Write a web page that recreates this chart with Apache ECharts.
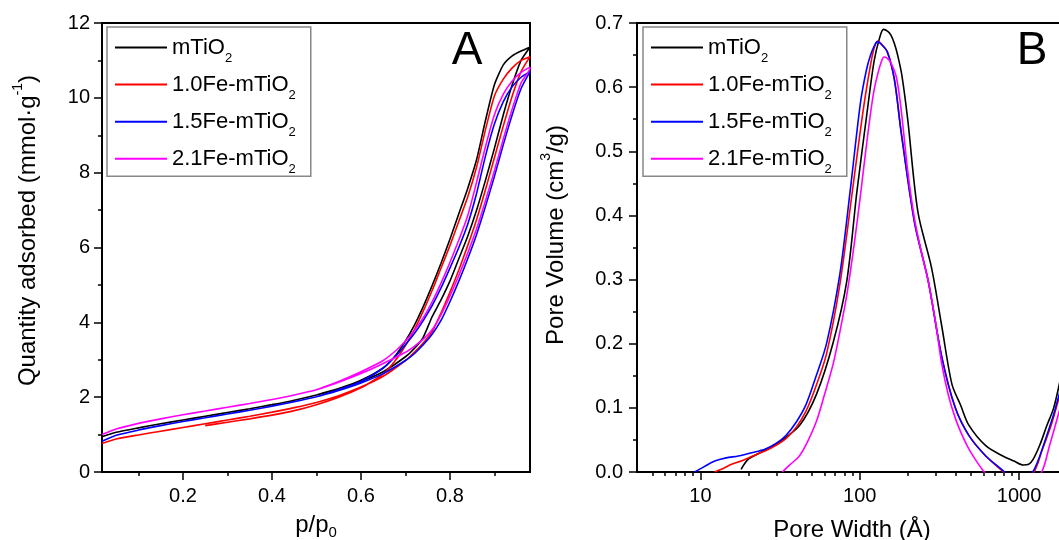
<!DOCTYPE html>
<html><head><meta charset="utf-8">
<script src="https://cdn.jsdelivr.net/npm/echarts@6/dist/echarts.min.js"></script>
<style>html,body{margin:0;padding:0;background:#fff;overflow:hidden}#c{width:1059px;height:540px}</style>
</head><body><div id="c"></div>
<script>
// ---------- Panel A: N2 isotherms (p/p0 vs quantity adsorbed, mmol/g) ----------
const seriesNames = ['mTiO2', '1.0Fe-mTiO2', '1.5Fe-mTiO2', '2.1Fe-mTiO2'];
const seriesColors = ['#000000', '#ff0000', '#0000ff', '#ff00ff'];

const pAds = [0.018,0.05,0.1,0.15,0.2,0.25,0.3,0.35,0.4,0.45,0.5,0.55,0.6,0.65,0.7,0.72,0.74,0.76,0.78,0.8,0.82,0.84,0.86,0.88,0.9,0.92,0.94,0.96,0.98];
const adsBlack   = [0.94,1.06,1.18,1.29,1.39,1.49,1.59,1.69,1.80,1.92,2.06,2.22,2.42,2.68,3.08,3.3,3.6,4.15,4.6,5.1,5.7,6.3,7.0,7.8,8.65,9.55,10.35,11.0,11.35];
const adsRed     = [0.76,0.88,0.99,1.09,1.19,1.29,1.39,1.49,1.60,1.72,1.86,2.04,2.27,2.56,2.98,3.2,3.45,3.75,4.25,4.8,5.4,6.05,6.75,7.55,8.4,9.25,10.05,10.7,11.1];
const adsBlue    = [0.82,0.98,1.12,1.24,1.35,1.45,1.55,1.65,1.76,1.88,2.01,2.18,2.38,2.63,2.98,3.16,3.4,3.68,4.05,4.55,5.1,5.7,6.35,7.1,7.9,8.75,9.55,10.25,10.7];
const adsMagenta = [1.0,1.15,1.3,1.42,1.53,1.63,1.73,1.83,1.94,2.06,2.2,2.4,2.63,2.9,3.2,3.36,3.55,3.8,4.2,4.7,5.25,5.85,6.5,7.25,8.05,8.9,9.7,10.4,10.8];

const pDes    = [0.98,0.96,0.94,0.92,0.9,0.88,0.86,0.84,0.82,0.8,0.78,0.76,0.74,0.72,0.7,0.68,0.65,0.6,0.55,0.5];
const pDesRed = [0.98,0.96,0.94,0.92,0.9,0.88,0.86,0.84,0.82,0.8,0.78,0.76,0.74,0.72,0.7,0.68,0.65,0.6,0.55,0.5,0.45,0.4,0.35,0.3,0.25];
const desBlack   = [11.35,11.25,11.12,10.88,10.35,9.4,8.35,7.58,6.9,6.22,5.58,4.98,4.42,3.92,3.5,3.15,2.78,2.45,2.23,2.06];
const desRed     = [11.1,11.0,10.8,10.5,10.05,9.15,8.15,7.35,6.7,6.05,5.45,4.85,4.3,3.8,3.38,3.02,2.62,2.25,2.0,1.8,1.64,1.52,1.42,1.33,1.24];
const desBlue    = [10.7,10.55,10.3,9.9,9.3,8.45,7.45,6.62,6.0,5.45,4.92,4.45,4.05,3.7,3.4,3.12,2.78,2.42,2.2,2.01];
const desMagenta = [10.82,10.68,10.45,10.1,9.55,8.7,7.75,6.85,6.2,5.6,5.05,4.55,4.12,3.78,3.5,3.26,2.98,2.68,2.42,2.2];

const pLabelTicks = [0.2,0.4,0.6,0.8];
const pMinorTicks = [0.1,0.3,0.5,0.7,0.9];

// ---------- Panel B: pore size distribution (pore width, Å vs pore volume, cm3/g) ----------
const wBlack = [18,20,25,31,42,53.5,68,83,96,111,123,133,141,150,157,165,173,184,200,232,282,327,379,430,484,618,790,930,1063,1150,1228,1350,1493,1650,1800];
const vBlack = [0.004,0.02,0.033,0.046,0.073,0.121,0.201,0.298,0.437,0.559,0.64,0.676,0.69,0.687,0.681,0.668,0.65,0.618,0.55,0.405,0.319,0.228,0.137,0.104,0.073,0.041,0.025,0.017,0.011,0.012,0.02,0.042,0.072,0.1,0.14];
const wRed = [12.3,14,15.7,18,20,25.6,30,34.4,40,46,53,62,75,91.6,106,120,126,130,136,149,165,182,221,269,327,398,484,618,800,1000,1240,1400,1600,1800];
const vRed = [0,0.006,0.012,0.017,0.022,0.033,0.042,0.052,0.07,0.095,0.133,0.185,0.292,0.453,0.57,0.65,0.668,0.672,0.668,0.655,0.612,0.53,0.39,0.298,0.18,0.1,0.057,0.025,0,-0.02,0,0.035,0.075,0.12];
const wBlue = [9.2,10.5,12.3,14.5,17.3,21,25.6,30,34.4,40,46,53,62,75,87,101,110,117,124,129,135,149,165,182,221,269,327,398,484,618,810,1000,1219,1350,1493,1650,1800];
const vBlue = [0,0.008,0.017,0.022,0.025,0.03,0.036,0.045,0.057,0.078,0.105,0.148,0.201,0.308,0.437,0.575,0.626,0.65,0.665,0.671,0.668,0.655,0.612,0.53,0.388,0.298,0.18,0.1,0.057,0.025,0,-0.025,0,0.025,0.057,0.09,0.124];
const wMagenta = [32.7,36,41.8,47,53.5,60,68.2,75,83,92,101,109,117,123,129,136,142,149,157,170,182,200,221,245,269,300,327,360,398,440,484,540,604,800,1100,1387,1550,1800];
const vMagenta = [0,0.01,0.025,0.047,0.079,0.12,0.169,0.218,0.276,0.352,0.431,0.5,0.56,0.595,0.618,0.638,0.647,0.645,0.638,0.615,0.565,0.47,0.394,0.34,0.298,0.232,0.169,0.12,0.084,0.057,0.036,0.017,0,-0.04,-0.03,0,0.04,0.097];

const wLabelTicks = [10,100,1000];
const wMinorTicks = [5,6,7,8,9,20,30,40,50,60,70,80,90,200,300,400,500,600,700,800,900];

// ---------- build ----------
const FONT = "'Liberation Sans', Arial, Helvetica, sans-serif";
function pairs(xs, ys){ return xs.map((x,i)=>[x, ys[i]]); }
function loop(pa, va, pd, vd){ return pairs(pa, va).concat(pairs(pd, vd)); }

const isoData = [
  loop(pAds, adsBlack, pDes, desBlack),
  loop(pAds, adsRed, pDesRed, desRed),
  loop(pAds, adsBlue, pDes, desBlue),
  loop(pAds, adsMagenta, pDes, desMagenta)
];
const psdData = [pairs(wBlack, vBlack), pairs(wRed, vRed), pairs(wBlue, vBlue), pairs(wMagenta, vMagenta)];

const axisLine = {show:true, onZero:false, lineStyle:{color:'#000', width:2}};
const tickLine = {color:'#000', width:1.5};
const labelStyle = {fontSize:20, fontFamily:FONT, color:'#000'};
const lg = v => Math.log10(v);

const series = [];
isoData.forEach((d,i)=>series.push({
  type:'line', name:seriesNames[i], xAxisIndex:0, yAxisIndex:0, data:d,
  showSymbol:false, symbol:'none', smooth:0.2, clip:true,
  lineStyle:{color:seriesColors[i], width:1.6}, itemStyle:{color:seriesColors[i]}
}));
psdData.forEach((d,i)=>series.push({
  type:'line', name:seriesNames[i], xAxisIndex:2, yAxisIndex:1, data:d,
  showSymbol:false, symbol:'none', smooth:0.3, clip:true,
  lineStyle:{color:seriesColors[i], width:1.6}, itemStyle:{color:seriesColors[i]}
}));

const legendBase = {
  orient:'vertical', top:27, itemWidth:52, itemHeight:2, itemGap:8.6, icon:'rect',
  padding:[9.5, 15, 0, 8], borderColor:'#888', borderWidth:1.5, backgroundColor:'#fff',
  selectedMode:false, data:seriesNames,
  formatter: n => '{a|' + n.slice(0, -1) + '}{s|2}',
  textStyle:{fontFamily:FONT, color:'#000', fontSize:22,
    rich:{a:{fontSize:22, lineHeight:35, fontFamily:FONT, color:'#000'},
          s:{fontSize:13, lineHeight:10, verticalAlign:'bottom', fontFamily:FONT, color:'#000'}}}
};

const option = {
  animation:false,
  backgroundColor:'#fff',
  grid:[
    {left:102, top:23, width:428, height:449, show:true, borderColor:'#000', borderWidth:2, containLabel:false, outerBoundsMode:'none'},
    {left:637, top:23, width:430, height:449, show:true, borderColor:'#000', borderWidth:2, containLabel:false, outerBoundsMode:'none'}
  ],
  legend:[Object.assign({}, legendBase, {left:107}), Object.assign({}, legendBase, {left:643})],
  xAxis:[
    {gridIndex:0, type:'value', position:'bottom', min:0.018, max:0.98, splitLine:{show:false},
     axisLine:axisLine, axisTick:{show:true, length:8, customValues:pLabelTicks, lineStyle:tickLine},
     axisLabel:Object.assign({customValues:pLabelTicks, margin:14, formatter:v=>v.toFixed(1)}, labelStyle),
     name:'{a|p/p}{s|0}', nameLocation:'middle', nameGap:38,
     nameTextStyle:{fontSize:24, fontFamily:FONT, color:'#000',
       rich:{a:{fontSize:24, lineHeight:30, fontFamily:FONT, color:'#000'},
             s:{fontSize:15, lineHeight:10, verticalAlign:'bottom', fontFamily:FONT, color:'#000'}}}},
    {gridIndex:0, type:'value', position:'bottom', min:0.018, max:0.98, splitLine:{show:false},
     axisLine:{show:false}, axisTick:{show:true, length:4, customValues:pMinorTicks, lineStyle:tickLine},
     axisLabel:{show:false}},
    {gridIndex:1, type:'log', logBase:10, position:'bottom', min:4, max:2000, splitLine:{show:false},
     axisLine:axisLine, axisTick:{show:false}, axisLabel:{show:false},
     name:'Pore Width (Å)', nameLocation:'middle', nameGap:46,
     nameTextStyle:{fontSize:24, fontFamily:FONT, color:'#000', lineHeight:24}},
    {gridIndex:1, type:'value', position:'bottom', min:lg(4), max:lg(2000), splitLine:{show:false},
     axisLine:{show:false}, axisTick:{show:true, length:8, customValues:wLabelTicks.map(lg), lineStyle:tickLine},
     axisLabel:Object.assign({customValues:wLabelTicks.map(lg), margin:14,
       formatter:v=>String(Math.round(Math.pow(10, v)))}, labelStyle)},
    {gridIndex:1, type:'value', position:'bottom', min:lg(4), max:lg(2000), splitLine:{show:false},
     axisLine:{show:false}, axisTick:{show:true, length:4, customValues:wMinorTicks.map(lg), lineStyle:tickLine},
     axisLabel:{show:false}}
  ],
  yAxis:[
    {gridIndex:0, type:'value', min:0, max:12, interval:2, splitLine:{show:false},
     axisLine:axisLine, axisTick:{show:true, length:8, lineStyle:tickLine},
     minorTick:{show:true, splitNumber:2, length:4, lineStyle:tickLine}, minorSplitLine:{show:false},
     axisLabel:Object.assign({margin:12}, labelStyle),
     name:'{a|Quantity adsorbed (mmol·g}{s|-1}{a|)}', nameLocation:'middle', nameGap:57, nameRotate:90,
     nameTextStyle:{fontSize:24, fontFamily:FONT, color:'#000', padding:[0,0,0,34],
       rich:{a:{fontSize:24, lineHeight:34, fontFamily:FONT, color:'#000'},
             s:{fontSize:14, lineHeight:12, verticalAlign:'top', fontFamily:FONT, color:'#000'}}}},
    {gridIndex:1, type:'value', min:0, max:0.7, interval:0.1, splitLine:{show:false},
     axisLine:axisLine, axisTick:{show:true, length:8, lineStyle:tickLine},
     minorTick:{show:true, splitNumber:2, length:4, lineStyle:tickLine}, minorSplitLine:{show:false},
     axisLabel:Object.assign({margin:14, formatter:v=>v.toFixed(1)}, labelStyle),
     name:'{a|Pore Volume (cm}{s|3}{a|/g)}', nameLocation:'middle', nameGap:64, nameRotate:90,
     nameTextStyle:{fontSize:24, fontFamily:FONT, color:'#000', padding:[0,0,0,25],
       rich:{a:{fontSize:24, lineHeight:34, fontFamily:FONT, color:'#000'},
             s:{fontSize:14, lineHeight:12, verticalAlign:'top', fontFamily:FONT, color:'#000'}}}}
  ],
  graphic:[
    {type:'text', x:467, y:51, z:100, style:{text:'A', fontSize:46, fontFamily:FONT, fill:'#000', align:'center', verticalAlign:'middle'}},
    {type:'text', x:1032, y:51, z:100, style:{text:'B', fontSize:46, fontFamily:FONT, fill:'#000', align:'center', verticalAlign:'middle'}}
  ],
  series:series
};
const chart = echarts.init(document.getElementById('c'), null, {renderer:'canvas'});
chart.setOption(option);
</script></body></html>
